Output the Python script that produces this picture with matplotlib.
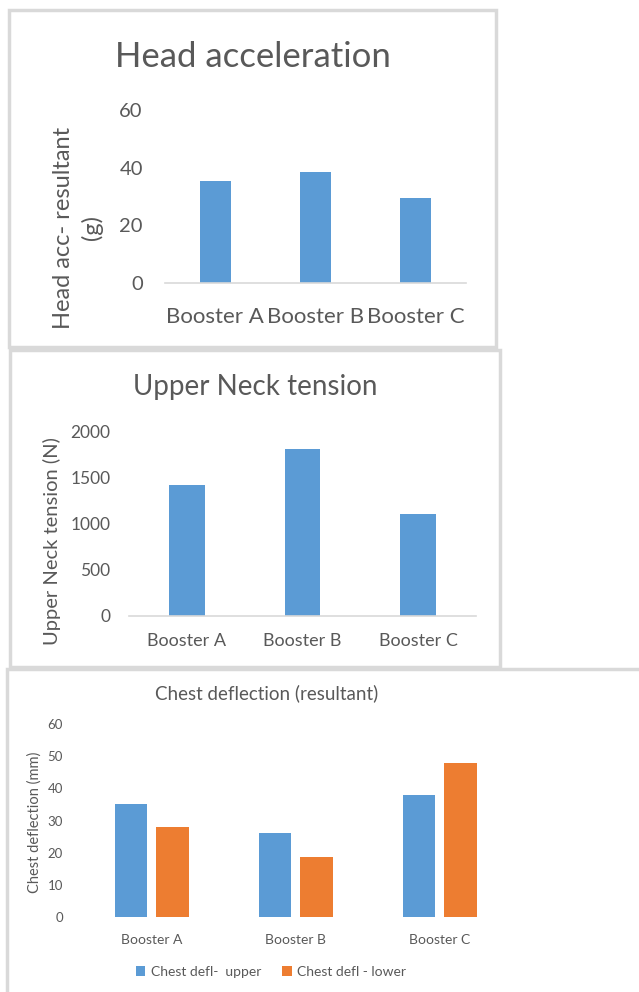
import matplotlib.pyplot as plt
from matplotlib.patches import Rectangle

plt.rcParams['font.family'] = ['Lato', 'DejaVu Sans']

W, H = 639, 992
GREY = '#595959'
BLUE = '#5B9BD5'
ORANGE = '#ED7D31'
EDGE = '#D9D9D9'

boosters = ['Booster A', 'Booster B', 'Booster C']
head_acc = [35.4, 38.5, 29.5]
neck_tension = [1420, 1805, 1100]
chest_upper = [35, 26, 38]
chest_lower = [28, 18.7, 48]
chest_series = ['Chest defl-  upper', 'Chest defl - lower']


def box(fig, x0, y0, x1, y1):
    # chart frame, pixel coords from the top-left corner
    fig.patches.append(Rectangle((x0 / W, 1 - y1 / H), (x1 - x0) / W, (y1 - y0) / H,
                                 transform=fig.transFigure, fill=False,
                                 edgecolor=EDGE, lw=2.5))


def axes_px(fig, x0, ytop, x1, ybot):
    return fig.add_axes([x0 / W, 1 - ybot / H, (x1 - x0) / W, (ybot - ytop) / H])


def style(ax, baseline=True):
    for s in ['top', 'right', 'left']:
        ax.spines[s].set_visible(False)
    ax.spines['bottom'].set_visible(baseline)
    ax.spines['bottom'].set_color(EDGE)
    ax.spines['bottom'].set_linewidth(1.2)
    ax.tick_params(length=0, colors=GREY)


fig = plt.figure(figsize=(W / 100, H / 100), dpi=100)

# head acceleration
box(fig, 9, 10, 496, 347)
ax1 = axes_px(fig, 165, 110, 466, 283)
ax1.bar(range(3), head_acc, width=0.31, color=BLUE)
ax1.set_xlim(-0.5, 2.5)
ax1.set_ylim(0, 60)
ax1.set_yticks([0, 20, 40, 60])
ax1.set_xticks(range(3), boosters)
style(ax1)
ax1.tick_params(axis='y', labelsize=14.5, pad=16)
ax1.tick_params(axis='x', labelsize=16, pad=17)
fig.text(253 / W, 1 - 57 / H, 'Head acceleration', ha='center', va='center',
         fontsize=25, color=GREY)
fig.text(78 / W, 1 - 228 / H, 'Head acc- resultant\n(g)', ha='center', va='center',
         rotation=90, fontsize=17, color=GREY, linespacing=1.35, multialignment='center')

# upper neck tension
box(fig, 10, 350, 500, 667)
ax2 = axes_px(fig, 129, 431, 476, 616)
ax2.bar(range(3), neck_tension, width=0.31, color=BLUE)
ax2.set_xlim(-0.5, 2.5)
ax2.set_ylim(0, 2000)
ax2.set_yticks([0, 500, 1000, 1500, 2000])
ax2.set_xticks(range(3), boosters)
style(ax2)
ax2.tick_params(axis='y', labelsize=12.5, pad=13.5)
ax2.tick_params(axis='x', labelsize=13, pad=12)
fig.text(255 / W, 1 - 387 / H, 'Upper Neck tension', ha='center', va='center',
         fontsize=20, color=GREY)
fig.text(52 / W, 1 - 541 / H, 'Upper Neck tension (N)', ha='center', va='center',
         rotation=90, fontsize=14.5, color=GREY)

# chest deflection
box(fig, 7, 669, 645, 1000)
ax3 = axes_px(fig, 79.5, 724, 512, 917)
x = list(range(3))
ax3.bar([i - 0.144 for i in x], chest_upper, width=0.226, color=BLUE, label=chest_series[0])
ax3.bar([i + 0.144 for i in x], chest_lower, width=0.226, color=ORANGE, label=chest_series[1])
ax3.set_xlim(-0.5, 2.5)
ax3.set_ylim(0, 60)
ax3.set_yticks(range(0, 70, 10))
ax3.set_xticks(x, boosters)
style(ax3, baseline=False)
ax3.tick_params(axis='y', labelsize=9.5, pad=12)
ax3.tick_params(axis='x', labelsize=10, pad=12)
fig.text(267 / W, 1 - 693 / H, 'Chest deflection (resultant)', ha='center', va='center',
         fontsize=13.5, color=GREY)
fig.text(35 / W, 1 - 822 / H, 'Chest deflection (mm)', ha='center', va='center',
         rotation=90, fontsize=10.5, color=GREY)
leg = fig.legend(loc='center', bbox_to_anchor=(271 / W, 1 - 972 / H), ncol=2,
                 frameon=False, fontsize=10, handlelength=0.7, handleheight=0.7,
                 handletextpad=0.4, columnspacing=1.5)
for t in leg.get_texts():
    t.set_color(GREY)

fig.savefig('out.png', dpi=100)
